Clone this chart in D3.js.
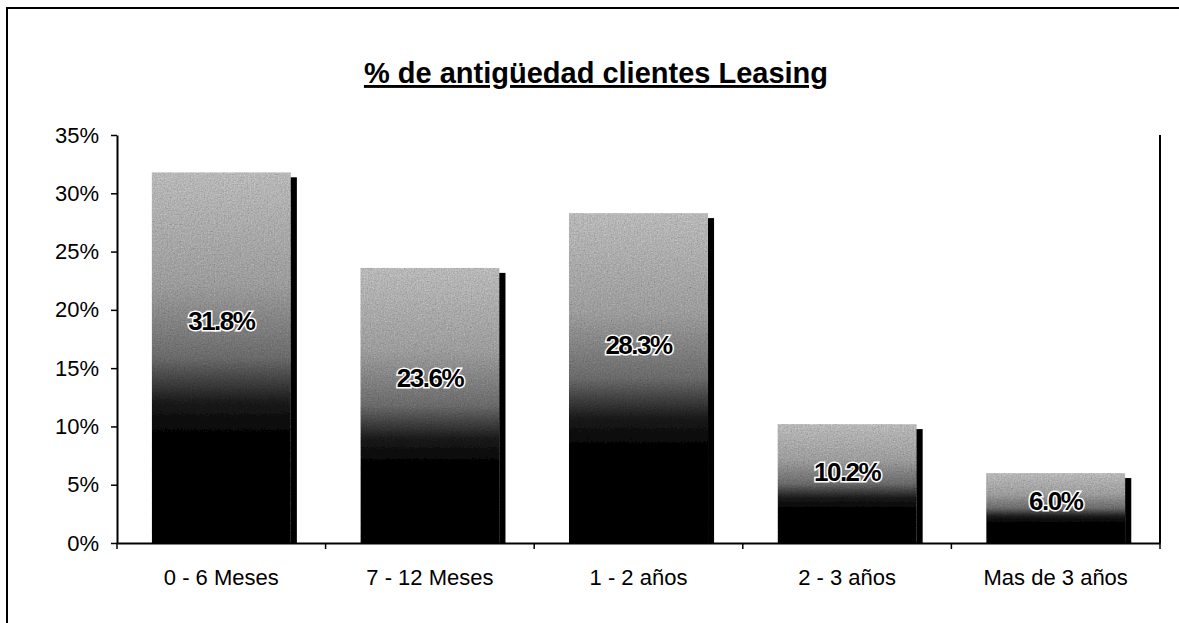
<!DOCTYPE html>
<html>
<head>
<meta charset="utf-8">
<script src="https://cdn.jsdelivr.net/npm/d3@7"></script>
<style>
  html, body { margin: 0; padding: 0; background: #fff; }
  svg text { font-family: "Liberation Sans", Arial, sans-serif; }
</style>
</head>
<body>
<svg id="chart" width="1179" height="623"></svg>
<script>
// datos
var categorias = ['0 - 6 Meses', '7 - 12 Meses', '1 - 2 años', '2 - 3 años', 'Mas de 3 años']
var valores = [31.8, 23.6, 28.3, 10.2, 6.0]
var ticksY = [0, 5, 10, 15, 20, 25, 30, 35]
var titulo = '% de antigüedad clientes Leasing'

var W = 1179, H = 623,
    margin = { left: 117, right: 19, top: 135, bottom: 80 }

var svg = d3.select('#chart')

// marco del grafico
svg.append('rect')
    .attr('x', 7).attr('y', 8)
    .attr('width', 1300).attr('height', 800)
    .attr('fill', 'none')
    .attr('stroke', '#000')
    .attr('stroke-width', 2)

var defs = svg.append('defs')

// degradado de las barras
var grad = defs.append('linearGradient')
    .attr('id', 'barGrad')
    .attr('x1', 0).attr('y1', 0).attr('x2', 0).attr('y2', 1)
grad.selectAll('stop')
    .data([[0, '#b8b8b8'], [0.3, '#9c9c9c'], [0.5, '#6a6a6a'], [0.62, '#1a1a1a'], [0.72, '#000'], [1, '#000']])
    .enter().append('stop')
    .attr('offset', d => d[0])
    .attr('stop-color', d => d[1])

// textura granulada (como el escaneo)
var grano = defs.append('filter').attr('id', 'grano')
    .attr('x', 0).attr('y', 0).attr('width', 1).attr('height', 1)
grano.append('feTurbulence')
    .attr('type', 'fractalNoise').attr('baseFrequency', 0.7)
    .attr('numOctaves', 2).attr('seed', 3).attr('result', 'ruido')
grano.append('feColorMatrix')
    .attr('in', 'ruido').attr('type', 'saturate').attr('values', 0).attr('result', 'gris')
grano.append('feBlend')
    .attr('in', 'gris').attr('in2', 'SourceGraphic').attr('mode', 'overlay').attr('result', 'mezcla')
grano.append('feComposite')
    .attr('in', 'mezcla').attr('in2', 'SourceGraphic').attr('operator', 'in')

var x = d3.scaleBand()
    .domain(categorias)
    .range([margin.left, W - margin.right])
    .paddingInner(0.333)
    .paddingOuter(0.1665)

var y = d3.scaleLinear()
    .domain([0, 35])
    .range([543, margin.top])

// titulo
svg.append('text')
    .attr('x', 596).attr('y', 83)
    .attr('text-anchor', 'middle')
    .style('font-size', '29px')
    .style('font-weight', 'bold')
    .style('text-decoration', 'underline')
    .text(titulo)

// sombras
svg.selectAll('.sombra')
    .data(valores)
    .enter().append('rect')
    .attr('class', 'sombra')
    .attr('x', (d, i) => x(categorias[i]) + 6)
    .attr('y', d => y(d) + 5)
    .attr('width', x.bandwidth())
    .attr('height', d => y(0) - y(d) - 5)
    .attr('fill', '#000')

// barras
svg.selectAll('.barra')
    .data(valores)
    .enter().append('rect')
    .attr('class', 'barra')
    .attr('x', (d, i) => x(categorias[i]))
    .attr('y', d => y(d))
    .attr('width', x.bandwidth())
    .attr('height', d => y(0) - y(d))
    .attr('fill', 'url(#barGrad)')
    .attr('filter', 'url(#grano)')

// eje Y
var gy = svg.append('g')
    .attr('transform', 'translate(' + margin.left + ',0)')
    .call(d3.axisLeft(y).tickValues(ticksY).tickSize(6).tickSizeOuter(0)
        .tickFormat(d => d + '%'))
gy.select('.domain').attr('stroke', '#000').attr('stroke-width', 2)
gy.selectAll('.tick line').attr('stroke-width', 1.5)
gy.selectAll('.tick text')
    .attr('x', -18)
    .style('font-size', '22px')
    .attr('fill', '#000')

// eje X
var gx = svg.append('g')
    .attr('transform', 'translate(0,' + y(0) + ')')
    .call(d3.axisBottom(x).tickSize(0).tickSizeOuter(0))
gx.select('.domain').attr('stroke', '#000').attr('stroke-width', 2)
gx.selectAll('.tick text')
    .attr('y', 26)
    .style('font-size', '22px')
    .attr('fill', '#000')

// marcas entre categorias
var bordes = categorias.map(c => x(c) - x.step() * x.paddingInner() / 2)
bordes.push(W - margin.right)
svg.selectAll('.marcaX')
    .data(bordes)
    .enter().append('line')
    .attr('class', 'marcaX')
    .attr('x1', d => d).attr('x2', d => d)
    .attr('y1', y(0)).attr('y2', y(0) + 6)
    .attr('stroke', '#000').attr('stroke-width', 1.5)

// borde derecho del area
svg.append('line')
    .attr('x1', W - margin.right).attr('x2', W - margin.right)
    .attr('y1', y(35)).attr('y2', y(0))
    .attr('stroke', '#000').attr('stroke-width', 2)

// etiquetas de valores
svg.selectAll('.etiqueta')
    .data(valores)
    .enter().append('text')
    .attr('class', 'etiqueta')
    .attr('x', (d, i) => x(categorias[i]) + x.bandwidth() / 2)
    .attr('y', d => y(d * 0.6) + 9)
    .attr('text-anchor', 'middle')
    .style('font-size', '26px')
    .style('font-weight', 'bold')
    .style('letter-spacing', '-1.5px')
    .style('paint-order', 'stroke')
    .attr('stroke', '#fff')
    .attr('stroke-width', 3)
    .attr('fill', '#000')
    .text(d => d.toFixed(1) + '%')
</script>
</body>
</html>
